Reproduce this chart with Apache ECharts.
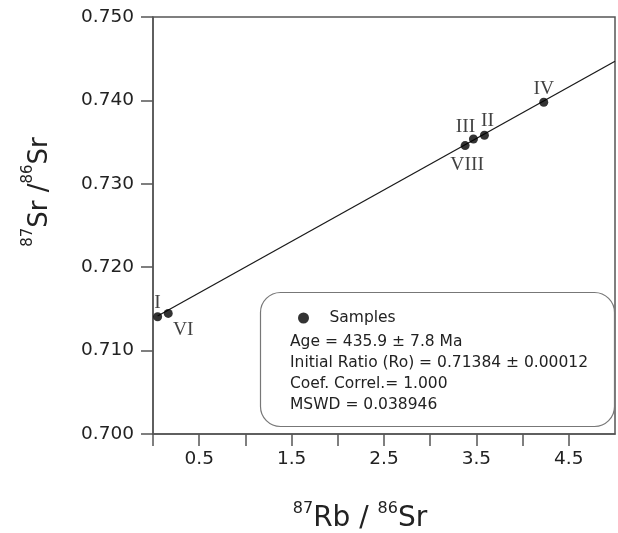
<!DOCTYPE html>
<html><head><meta charset="utf-8">
<script src="https://cdn.jsdelivr.net/npm/echarts@6/dist/echarts.min.js"></script>
<style>html,body{margin:0;padding:0;background:#fff}#c{width:618px;height:533px}</style>
</head><body><div id="c"></div>
<script>
// ---- data ----
const sampleNames = ['I', 'VI', 'VIII', 'III', 'II', 'IV'];
const rbSr = [0.05, 0.165, 3.378, 3.468, 3.587, 4.229];          // 87Rb/86Sr
const srSr = [0.71406, 0.71446, 0.73458, 0.73537, 0.73582, 0.73978]; // 87Sr/86Sr
const isochronX = [0.05, 5.0];
const isochronY = [0.71415, 0.7447];
const xLabelValues = [0.5, 1.5, 2.5, 3.5, 4.5];
const xTickValues = [0, 0.5, 1, 1.5, 2, 2.5, 3, 3.5, 4, 4.5];
const legendName = 'Samples';
const statLines = [
  'Age = 435.9 \u00b1 7.8 Ma',
  'Initial Ratio (Ro) = 0.71384 \u00b1 0.00012',
  'Coef. Correl.= 1.000',
  'MSWD = 0.038946'
];

// ---- label placement (style only) ----
const labelOffsets = { 'I': [0, -14], 'VI': [15, 16], 'VIII': [2, 19], 'III': [-8, -12], 'II': [3, -14], 'IV': [0, -13] };

const FONT = 'DejaVu Sans';
const AXC = '#555';
const TXT = '#222';

const scatterData = sampleNames.map((n, i) => ({
  name: n, value: [rbSr[i], srSr[i]],
  label: { offset: labelOffsets[n] }
}));
const lineData = isochronX.map((x, i) => [x, isochronY[i]]);

const chart = echarts.init(document.getElementById('c'), null, { renderer: 'canvas' });
chart.setOption({
  backgroundColor: '#fff',
  animation: false,
  grid: { left: 153, right: 3, top: 17, bottom: 99, show: true, borderColor: AXC, borderWidth: 1.5, backgroundColor: 'transparent' },
  xAxis: {
    type: 'value', min: 0, max: 5, interval: 0.5,
    axisLine: { show: true, onZero: false, lineStyle: { color: AXC, width: 1.5 } },
    axisTick: { show: true, length: 12, inside: false, customValues: xTickValues, lineStyle: { color: AXC, width: 1.5 } },
    axisLabel: { show: true, customValues: xLabelValues, margin: 16, fontFamily: FONT, fontSize: 18.5, color: TXT,
      formatter: v => v.toFixed(1) },
    splitLine: { show: false }
  },
  yAxis: {
    type: 'value', min: 0.70, max: 0.75, interval: 0.01,
    axisLine: { show: true, onZero: false, lineStyle: { color: AXC, width: 1.5 } },
    axisTick: { show: true, length: 12, inside: false, lineStyle: { color: AXC, width: 1.5 } },
    axisLabel: { margin: 19, fontFamily: FONT, fontSize: 18.5, color: TXT, formatter: v => v.toFixed(3) },
    splitLine: { show: false }
  },
  legend: {
    show: true, data: [{ name: legendName, icon: 'circle', itemStyle: { color: '#000' } }],
    left: 298, top: 310, padding: 0, itemWidth: 42, itemHeight: 11,
    textStyle: { fontFamily: FONT, fontSize: 15.5, color: TXT },
    selectedMode: false
  },
  graphic: [
    { type: 'rect', left: 258, top: 290, z: 0,
      shape: { width: 354, height: 134, r: 20 },
      style: { fill: 'none', stroke: '#777', lineWidth: 1.2 } },
    { type: 'text', left: 290, top: 331, z: 10,
      style: { text: statLines.join('\n'), font: '15.5px "DejaVu Sans"', fill: TXT, lineHeight: 21 } },
    { type: 'text', x: 360, y: 517, z: 10,
      style: {
        text: '{s|87}{b|Rb / }{s|86}{b|Sr}', align: 'center', verticalAlign: 'middle',
        rich: {
          b: { fontFamily: FONT, fontSize: 28, fill: TXT, lineHeight: 32, verticalAlign: 'bottom' },
          s: { fontFamily: FONT, fontSize: 16, fill: TXT, lineHeight: 32, verticalAlign: 'top' }
        }
      } },
    { type: 'text', x: 37, y: 192, rotation: Math.PI / 2, z: 10,
      style: {
        text: '{s|87}{b|Sr /}{s|86}{b|Sr}', align: 'center', verticalAlign: 'middle',
        rich: {
          b: { fontFamily: FONT, fontSize: 26, fill: TXT, lineHeight: 32, verticalAlign: 'bottom' },
          s: { fontFamily: FONT, fontSize: 15, fill: TXT, lineHeight: 32, verticalAlign: 'top' }
        }
      } }
  ],
  series: [
    { type: 'line', name: 'isochron', data: lineData, symbol: 'none', silent: true,
      lineStyle: { color: '#1a1a1a', width: 1.3 }, z: 2 },
    { type: 'scatter', name: legendName, data: scatterData, symbol: 'circle', symbolSize: 9,
      itemStyle: { color: '#000' }, z: 3,
      label: { show: true, position: 'inside', formatter: p => p.name,
        fontFamily: 'Liberation Serif', fontSize: 19.5, color: '#111' } }
  ]
});
</script>
</body></html>
